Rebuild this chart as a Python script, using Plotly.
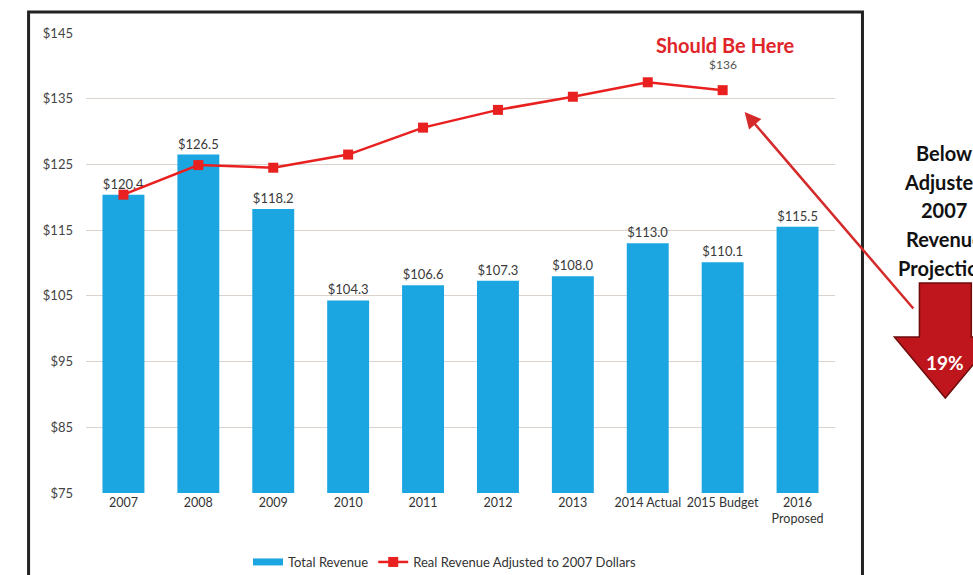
import plotly.graph_objects as go

categories = ["2007", "2008", "2009", "2010", "2011", "2012", "2013",
              "2014 Actual", "2015 Budget", "2016<br>Proposed"]
total_revenue = [120.4, 126.5, 118.2, 104.3, 106.6, 107.3, 108.0, 113.0, 110.1, 115.5]
total_labels = ["$120.4", "$126.5", "$118.2", "$104.3", "$106.6", "$107.3",
                "$108.0", "$113.0", "$110.1", "$115.5"]
real_categories = categories[:9]
real_revenue = [120.4, 124.9, 124.5, 126.5, 130.6, 133.3, 135.3, 137.5, 136.3]
real_label = "$136"

y_ticks = [75, 85, 95, 105, 115, 125, 135, 145]
y_tick_text = ["$75", "$85", "$95", "$105", "$115", "$125", "$135", "$145"]

side_note_lines = ["Below", "Adjusted", "2007", "Revenue", "Projection"]

BLUE = "#1ba6e1"
RED = "#e8201f"
FONT = "Lato"

W, H = 973, 575
L, R, T, B = 85.5, 835.5, 33, 493  # plot area in screen pixels


def px(x):
    return (x - L) / (R - L)


def py(y):
    return (B - y) / (B - T)


fig = go.Figure()
fig.add_trace(go.Bar(
    x=categories, y=total_revenue, base=0,
    marker=dict(color=BLUE, line=dict(width=0)),
    width=0.56, text=total_labels, textposition="outside",
    textfont=dict(family=FONT, size=13, color="#3a3a3a"),
    cliponaxis=False, showlegend=False, name="Total Revenue",
))
# legend-only swatch for the bars (thick line like the original)
fig.add_trace(go.Scatter(
    x=[None], y=[None], mode="lines", name="Total Revenue",
    line=dict(color=BLUE, width=7),
))
fig.add_trace(go.Scatter(
    x=real_categories, y=real_revenue, mode="lines+markers",
    name="Real Revenue Adjusted to 2007 Dollars",
    line=dict(color=RED, width=2.5),
    marker=dict(symbol="square", size=10, color=RED),
    cliponaxis=False,
))

annotations = [
    dict(x=real_categories[-1], y=real_revenue[-1], xref="x", yref="y",
         text=real_label, showarrow=False, yshift=26,
         xanchor="center", yanchor="middle",
         font=dict(family=FONT, size=12, color="#555555")),
    dict(x=px(726), y=py(45), xref="paper", yref="paper",
         text="<b>Should Be Here</b>", showarrow=False,
         xanchor="center", yanchor="middle",
         font=dict(family=FONT, size=20, color="#e0252a")),
    dict(x=px(946), y=py(362), xref="paper", yref="paper",
         text="<b>19%</b>", showarrow=False,
         xanchor="center", yanchor="middle",
         font=dict(family=FONT, size=19, color="#ffffff")),
    dict(x=px(745), y=py(112), xref="paper", yref="paper",
         text="", showarrow=True, ax=170, ay=198,
         arrowhead=2, arrowsize=1.3, arrowwidth=2.5, arrowcolor="#d42a2a"),
]
for i, line in enumerate(side_note_lines):
    annotations.append(dict(
        x=px(945), y=py(153 + 28.7 * i), xref="paper", yref="paper",
        text=f"<b>{line}</b>", showarrow=False,
        xanchor="center", yanchor="middle",
        font=dict(family=FONT, size=20, color="#111111")))

arrow_pts = [(920, 283), (972, 283), (972, 337), (997, 337), (946, 398),
             (895, 337), (920, 337)]
path = "M " + " L ".join(f"{px(a):.4f},{py(b):.4f}" for a, b in arrow_pts) + " Z"

shapes = [
    dict(type="rect", xref="paper", yref="paper",
         x0=px(28), x1=px(863), y0=py(600), y1=py(12),
         line=dict(color="#222222", width=3), fillcolor="rgba(0,0,0,0)",
         layer="below"),
    dict(type="path", xref="paper", yref="paper", path=path,
         fillcolor="#be161c", line=dict(color="#6e0b0b", width=1.5)),
]

fig.update_layout(
    width=W, height=H,
    margin=dict(l=L, r=W - R, t=T, b=H - B, pad=0, autoexpand=False),
    paper_bgcolor="white", plot_bgcolor="white",
    font=dict(family=FONT, size=12, color="#333333"),
    xaxis=dict(
        type="category", categoryorder="array", categoryarray=categories,
        range=[-0.5, len(categories) - 0.5], automargin=False,
        showgrid=False, showline=False, ticks="",
        tickfont=dict(family=FONT, size=12.5, color="#333333"),
    ),
    yaxis=dict(
        range=[75, 145], tickvals=y_ticks, ticktext=y_tick_text,
        showgrid=True, gridcolor="#dbd3ce", gridwidth=1, automargin=False,
        zeroline=False, showline=False, ticks="",
        ticklabelstandoff=12,
        tickfont=dict(family=FONT, size=13, color="#444444"),
    ),
    legend=dict(orientation="h", x=px(445), xanchor="center",
                yref="container", y=1 - 562 / H, yanchor="middle",
                font=dict(family=FONT, size=13, color="#333333"),
                itemwidth=30, bgcolor="rgba(0,0,0,0)"),
    annotations=annotations,
    shapes=shapes,
)

fig.write_html(
    "out.html",
    config={"displayModeBar": False},
    post_script="document.body.style.margin='0';"
                "document.body.style.overflow='hidden';",
)
